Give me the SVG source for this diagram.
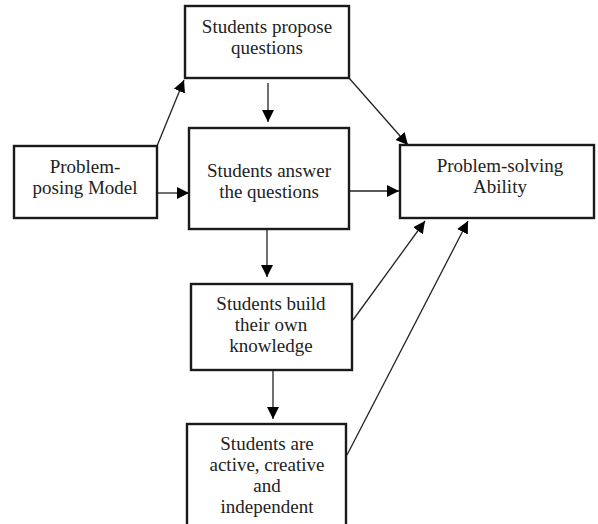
<svg xmlns="http://www.w3.org/2000/svg" width="598" height="524" viewBox="0 0 598 524">
<style>
.box{fill:#fff;stroke:#1a1a1a;stroke-width:2.4}
.t{font-family:"Liberation Serif","Times New Roman",serif;font-size:19px;fill:#222;text-anchor:middle}
.c{stroke:#222;stroke-width:1.3;fill:none}
</style>
<defs>
<marker id="ah" markerUnits="userSpaceOnUse" markerWidth="14" markerHeight="14" refX="12" refY="7" orient="auto">
<path d="M0,1 L12,7 L0,13 z" fill="#000"/>
</marker>
</defs>
<rect width="598" height="524" fill="#fff"/>
<g id="connectors">
<line class="c" x1="157" y1="146" x2="184" y2="80" marker-end="url(#ah)"/>
<line class="c" x1="157" y1="193" x2="189" y2="193" marker-end="url(#ah)"/>
<line class="c" x1="268" y1="83" x2="268" y2="122" marker-end="url(#ah)"/>
<line class="c" x1="349" y1="78" x2="408" y2="145" marker-end="url(#ah)"/>
<line class="c" x1="349" y1="191" x2="399" y2="191" marker-end="url(#ah)"/>
<line class="c" x1="267" y1="229" x2="267" y2="277" marker-end="url(#ah)"/>
<line class="c" x1="353" y1="320" x2="425" y2="221" marker-end="url(#ah)"/>
<line class="c" x1="273" y1="370" x2="273" y2="419" marker-end="url(#ah)"/>
<line class="c" x1="347" y1="455" x2="468" y2="221" marker-end="url(#ah)"/>
</g>
<g id="propose">
<rect class="box" x="185" y="6" width="164" height="72"/>
<text class="t" x="267" y="33">Students propose</text>
<text class="t" x="267" y="54">questions</text>
</g>
<g id="posing">
<rect class="box" x="14" y="146" width="143" height="72"/>
<text class="t" x="85" y="173">Problem-</text>
<text class="t" x="85" y="194">posing Model</text>
</g>
<g id="answer">
<rect class="box" x="189" y="128" width="160" height="101"/>
<text class="t" x="269" y="177">Students answer</text>
<text class="t" x="269" y="198">the questions</text>
</g>
<g id="ability">
<rect class="box" x="400" y="145" width="194" height="73"/>
<text class="t" x="500" y="172">Problem-solving</text>
<text class="t" x="500" y="193">Ability</text>
</g>
<g id="build">
<rect class="box" x="191" y="284" width="161" height="86"/>
<text class="t" x="271" y="310">Students build</text>
<text class="t" x="271" y="331">their own</text>
<text class="t" x="271" y="352">knowledge</text>
</g>
<g id="active">
<rect class="box" x="187" y="424" width="159" height="110"/>
<text class="t" x="267" y="450">Students are</text>
<text class="t" x="267" y="471">active, creative</text>
<text class="t" x="267" y="492">and</text>
<text class="t" x="267" y="513">independent</text>
</g>
</svg>
